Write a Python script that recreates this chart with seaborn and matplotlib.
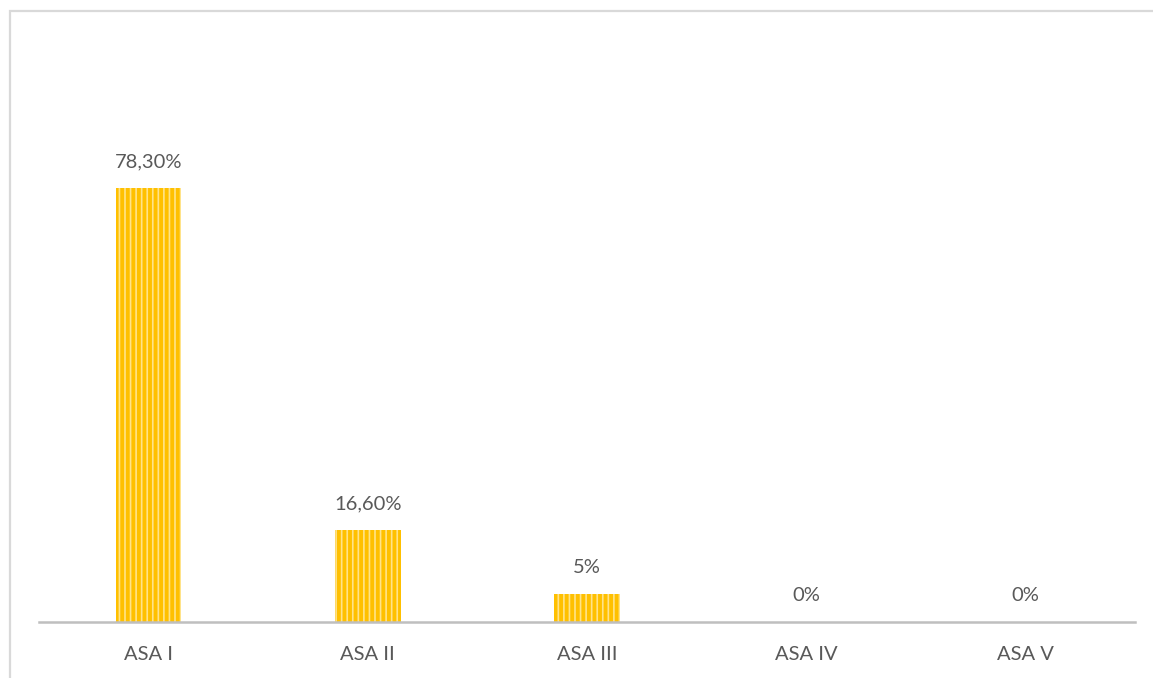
import matplotlib
matplotlib.use("Agg")
import matplotlib.pyplot as plt
import seaborn as sns
import pandas as pd
from matplotlib.patches import Rectangle

# ASA physical status distribution
categories = ["ASA I", "ASA II", "ASA III", "ASA IV", "ASA V"]
percentages = [78.3, 16.6, 5.0, 0.0, 0.0]
value_labels = ["78,30%", "16,60%", "5%", "0%", "0%"]

df = pd.DataFrame({"asa": categories, "pct": percentages})

sns.set_theme(style="white")
plt.rcParams["font.family"] = ["Lato", "DejaVu Sans"]
plt.rcParams["hatch.linewidth"] = 1.2

W, H = 1153, 678
fig = plt.figure(figsize=(W / 100, H / 100), dpi=100)
fig.patch.set_facecolor("white")

# chart area frame
fig.add_artist(Rectangle((10 / W, -0.1), 1.2, (H - 11) / H + 0.1,
                         transform=fig.transFigure, fill=False,
                         edgecolor="#D9D9D9", linewidth=1.6))

ax = fig.add_axes([39 / W, 56 / H, (1135 - 39) / W, (622 - 40) / H])
sns.barplot(data=df, x="asa", y="pct", ax=ax, color="#FFC000",
            width=0.30, saturation=1, edgecolor="#FFE38A", linewidth=0,
            hatch="|||")

ax.set_ylim(0, 105)
ax.set_xlim(-0.5, len(categories) - 0.5)
ax.set_xlabel("")
ax.set_ylabel("")
ax.set_yticks([])
for side in ("top", "right", "left"):
    ax.spines[side].set_visible(False)
ax.spines["bottom"].set_color("#BFBFBF")
ax.spines["bottom"].set_linewidth(1.8)
ax.tick_params(axis="x", length=0, pad=17, labelsize=14.5, labelcolor="#595959")

for i, (v, lab) in enumerate(zip(percentages, value_labels)):
    ax.annotate(lab, (i, v), xytext=(0, 19), textcoords="offset points",
                ha="center", va="center", fontsize=14.5, color="#595959")

fig.savefig("out.png", dpi=100, facecolor="white")
